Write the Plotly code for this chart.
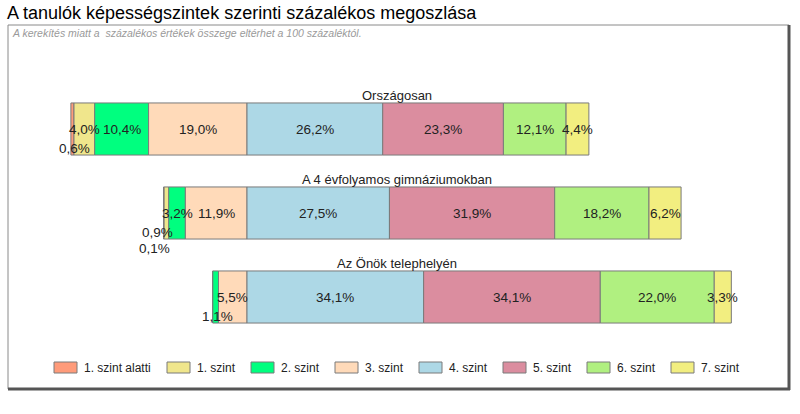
import plotly.graph_objects as go

# Data
groups = ["Országosan", "A 4 évfolyamos gimnáziumokban", "Az Önök telephelyén"]
levels = ["1. szint alatti", "1. szint", "2. szint", "3. szint",
          "4. szint", "5. szint", "6. szint", "7. szint"]
orszagosan = [0.6, 4.0, 10.4, 19.0, 26.2, 23.3, 12.1, 4.4]
gimnazium = [0.1, 0.9, 3.2, 11.9, 27.5, 31.9, 18.2, 6.2]
telephely = [0.0, 0.0, 1.1, 5.5, 34.1, 34.1, 22.0, 3.3]

colors = ["#FF9B7A", "#F0E68C", "#00FF7F", "#FFDAB9",
          "#ADD8E6", "#DB8D9F", "#B0F080", "#F2EE80"]

W, H = 800, 414
FONT = "Arial, Liberation Sans, sans-serif"

values = [orszagosan, gimnazium, telephely]
# bars are centred on the border between level 3 and level 4
starts = [-sum(v[:4]) for v in values]

fig = go.Figure()
for j, lev in enumerate(levels):
    seg = [v[j] for v in values]
    base = [s + sum(v[:j]) for s, v in zip(starts, values)]
    fig.add_trace(go.Bar(
        y=groups, x=seg, base=base, orientation="h",
        marker=dict(color=colors[j], line=dict(color="#7a7a7a", width=1)),
        width=0.62, name=lev, showlegend=False, hoverinfo="skip",
    ))

annotations = []
# value labels
for g, v, s in zip(groups, values, starts):
    small = [j for j in range(len(v)) if 0 < v[j] < 2]
    xs = -9 if len(small) > 1 else 2
    for j, val in enumerate(v):
        if val <= 0:
            continue
        cx = s + sum(v[:j]) + val / 2
        ys = 0
        if j in small:
            k = sorted(small, reverse=True).index(j)
            ys = -19 - 16 * k
        annotations.append(dict(
            x=cx, y=g, xref="x", yref="y", text=f"{val:.1f}%".replace(".", ","),
            showarrow=False, yshift=ys, xshift=xs if j in small else 0,
            font=dict(family=FONT, size=13.5, color="#222")))
    annotations.append(dict(
        x=397 / W, y=g, xref="paper", yref="y", text=g, showarrow=False,
        yshift=34, font=dict(family=FONT, size=13, color="#222")))

annotations.append(dict(
    x=5 / W, y=1 - 13 / H, xref="paper", yref="paper", xanchor="left",
    yanchor="middle",
    text="A tanulók képességszintek szerinti százalékos megoszlása",
    showarrow=False, font=dict(family=FONT, size=18, color="black")))
annotations.append(dict(
    x=10 / W, y=1 - 33 / H, xref="paper", yref="paper", xanchor="left",
    yanchor="middle",
    text="<i>A kerekítés miatt a  százalékos értékek összege eltérhet a 100 százaléktól.</i>",
    showarrow=False, font=dict(family=FONT, size=10.5, color="#9a9a9a")))

shapes = [
    dict(type="line", xref="paper", yref="paper", x0=8 / W, x1=789 / W,
         y0=1 - 25 / H, y1=1 - 25 / H, line=dict(color="#8a8a8a", width=1)),
    dict(type="line", xref="paper", yref="paper", x0=8 / W, x1=8 / W,
         y0=1 - 25 / H, y1=1 - 389 / H, line=dict(color="#8a8a8a", width=1)),
    dict(type="line", xref="paper", yref="paper", x0=789 / W, x1=789 / W,
         y0=1 - 25 / H, y1=1 - 390 / H, line=dict(color="#555", width=3)),
    dict(type="line", xref="paper", yref="paper", x0=8 / W, x1=790 / W,
         y0=1 - 389 / H, y1=1 - 389 / H, line=dict(color="#555", width=3)),
]

# legend drawn as swatches + labels
for i, (lev, c) in enumerate(zip(levels, colors)):
    x0 = 54 + 84 * i + (29 if i > 0 else 0)
    shapes.append(dict(type="rect", xref="paper", yref="paper",
                       x0=x0 / W, x1=(x0 + 23) / W, y0=1 - 362 / H, y1=1 - 373 / H,
                       fillcolor=c, line=dict(color="#7a7a7a", width=1)))
    annotations.append(dict(
        x=(x0 + 28) / W, y=1 - 367.5 / H, xref="paper", yref="paper",
        xanchor="left", yanchor="middle", text=lev, showarrow=False,
        font=dict(family=FONT, size=12, color="#222")))

px = 5.18
fig.update_layout(
    width=W, height=H,
    margin=dict(l=0, r=0, t=0, b=0),
    paper_bgcolor="white", plot_bgcolor="white",
    barmode="overlay",
    xaxis=dict(range=[-247 / px, (W - 247) / px], visible=False, fixedrange=True),
    yaxis=dict(range=[(H - 129) / 84, -129 / 84], visible=False,
               categoryorder="array", categoryarray=groups, fixedrange=True),
    annotations=annotations, shapes=shapes,
    showlegend=False,
)

fig.write_html("out.html", config={"displayModeBar": False},
               post_script="document.body.style.margin='0';")
